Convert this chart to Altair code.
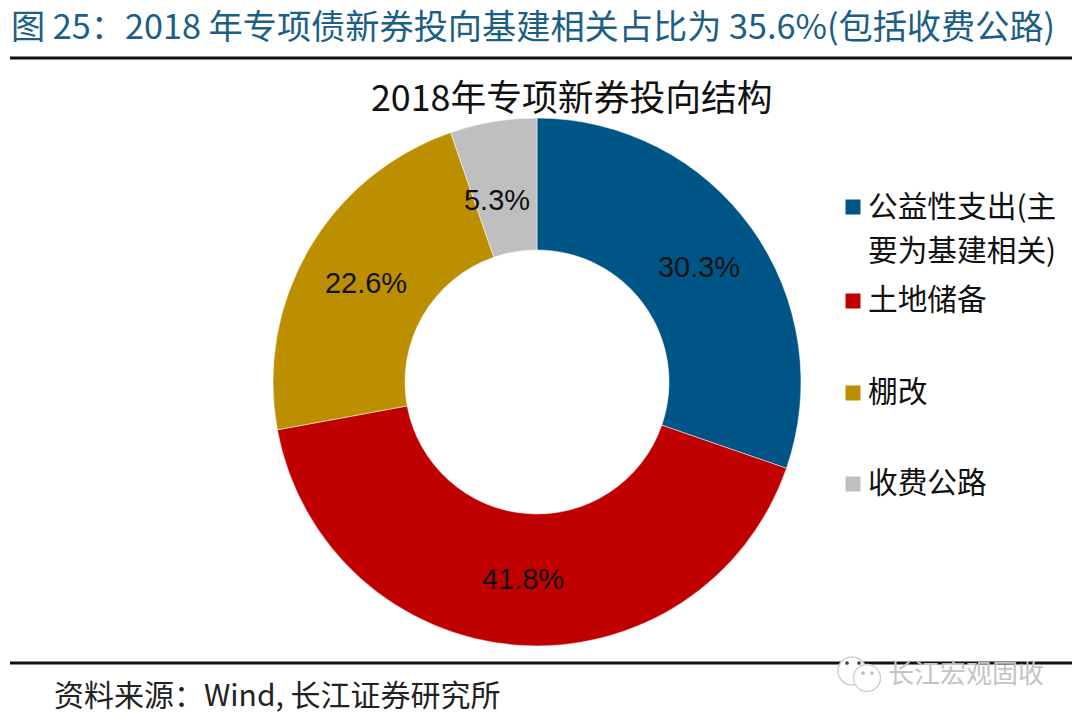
import altair as alt
import pandas as pd

categories = ["公益性支出(主要为基建相关)", "土地储备", "棚改", "收费公路"]
values = [30.3, 41.8, 22.6, 5.3]
labels = ["30.3%", "41.8%", "22.6%", "5.3%"]
colors = ["#005587", "#C00000", "#BC8F00", "#BFBFBF"]
legend_lines = [["公益性支出(主", "要为基建相关)"], ["土地储备"], ["棚改"], ["收费公路"]]
line_ys = [[208, 252], [301], [393], [484]]
legend_y = [207, 301, 393, 484]
label_x = [699, 523, 366, 497]
label_y = [268, 580, 284, 201]
icon_x = [852, 867]
icon_y = [671, 678]
icon_size = [784, 729]
eye_x = [847, 859, 863, 872]
eye_y = [663, 663, 673, 673]
eye_color = ["#444444", "#444444", "#bbbbbb", "#bbbbbb"]
FONT = "Noto Sans CJK SC"
W, H = 1064, 706
OX, OY = 8, 8


def X(f="x"):
    return alt.X(f + ":Q", scale=alt.Scale(domain=[OX, OX + W], range=[0, W]), axis=None)


def Y(f="y"):
    return alt.Y(f + ":Q", scale=alt.Scale(domain=[OY, OY + H], range=[0, H]), axis=None)


df = pd.DataFrame({"cat": categories, "v": values, "order": range(4)})
color = alt.Color("cat:N", scale=alt.Scale(domain=categories, range=colors), legend=None)

arc = alt.Chart(df).mark_arc(innerRadius=132, outerRadius=264, stroke="white", strokeWidth=0.5).encode(
    theta=alt.Theta("v:Q", stack=True, scale=alt.Scale(domain=[0, 100], range=[0, 6.28318530718])),
    color=color,
    order=alt.Order("order:Q"),
    x=alt.value(537 - OX),
    y=alt.value(382 - OY),
)

pos_df = pd.DataFrame({"label": labels, "x": label_x, "y": label_y})
lab = alt.Chart(pos_df).mark_text(font="Liberation Sans", fontSize=29, color="#111111").encode(
    x=X(), y=Y(), text="label:N"
)


def txt(rows, **kw):
    d = pd.DataFrame(rows, columns=["t", "x", "y"])
    return alt.Chart(d).mark_text(font=FONT, align="left", **kw).encode(x=X(), y=Y(), text="t:N")


title = txt([["图 25：2018 年专项债新券投向基建相关占比为 35.6%(包括收费公路)", 11, 29]], fontSize=34.2, color="#1B5E86")
sub = txt([["2018年专项新券投向结构", 371, 100]], fontSize=35.8, color="#111111")
src = txt([["资料来源：Wind, 长江证券研究所", 54, 697]], fontSize=30, color="#222222")
wm = txt([["长江宏观固收", 888, 675]], fontSize=26, color="#c4c4c4")

leg_rows = []
for lines, ys_ in zip(legend_lines, line_ys):
    for l, y in zip(lines, ys_):
        leg_rows.append([l, 868, y])
leg = txt(leg_rows, fontSize=29.7, color="#111111")

sq = pd.DataFrame({"cat": categories, "x": [853] * 4, "y": legend_y})
squares = alt.Chart(sq).mark_square(size=225, opacity=1).encode(x=X(), y=Y(), color=color)

rules = pd.DataFrame({"x": [10, 10], "x2": [1075, 1075], "y": [58, 663]})
rl = alt.Chart(rules).mark_rule(color="#111111", strokeWidth=3).encode(x=X(), x2="x2:Q", y=Y())

icons = pd.DataFrame({"x": icon_x, "y": icon_y, "s": icon_size})
ic = alt.Chart(icons).mark_point(shape="circle", filled=True, fill="white", stroke="#d0d0d0", strokeWidth=1.5, opacity=1).encode(
    x=X(), y=Y(), size=alt.Size("s:Q", scale=None, legend=None)
)
eyes = pd.DataFrame({"x": eye_x, "y": eye_y, "c": eye_color})
ey = alt.Chart(eyes).mark_point(shape="circle", filled=True, size=14, opacity=1).encode(
    x=X(), y=Y(), fill=alt.Fill("c:N", scale=None, legend=None)
)

chart = alt.layer(arc, lab, title, sub, src, leg, squares, rl, ic, ey, wm).resolve_scale(color="shared").properties(
    width=W, height=H, padding=0, autosize=alt.AutoSizeParams(type="none"),
).configure_view(stroke=None)
chart.save("out.html", embed_options={"renderer": "svg", "actions": False})
